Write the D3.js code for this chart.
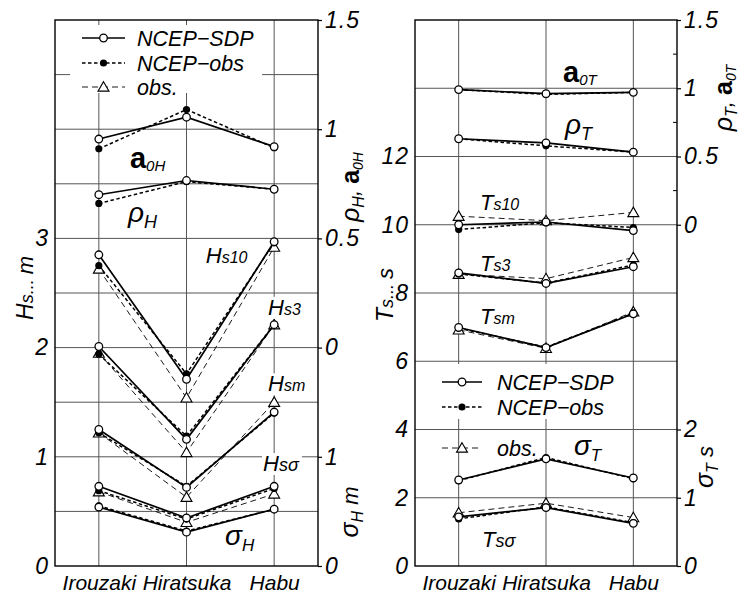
<!DOCTYPE html>
<html>
<head>
<meta charset="utf-8">
<script src="https://cdn.jsdelivr.net/npm/d3@7"></script>
<style>
  body { margin: 0; background: #fff; }
  svg { font-family: "Liberation Sans", Arial, sans-serif; font-style: italic; }
</style>
</head>
<body>
<svg id="chart" width="747" height="595"></svg>
<script>
const stations = ["Irouzaki", "Hiratsuka", "Habu"];
const legendNames = ["NCEP\u2212SDP", "NCEP\u2212obs", "obs."];

// wave height panel
const a0H_sdp = [0.955, 1.055, 0.92];
const a0H_nobs = [0.91, 1.09, 0.915];
const rhoH_sdp = [0.70, 0.765, 0.725];
const rhoH_nobs = [0.66, 0.76, 0.725];
const Hs10_sdp = [2.85, 1.71, 2.97];
const Hs10_nobs = [2.75, 1.76, 2.96];
const Hs10_obs = [2.72, 1.54, 2.92];
const Hs3_sdp = [2.01, 1.16, 2.21];
const Hs3_nobs = [1.94, 1.19, 2.21];
const Hs3_obs = [1.95, 1.04, 2.21];
const Hsm_sdp = [1.25, 0.72, 1.41];
const Hsm_nobs = [1.22, 0.73, 1.40];
const Hsm_obs = [1.22, 0.63, 1.50];
const Hssig_sdp = [0.73, 0.44, 0.73];
const Hssig_nobs = [0.69, 0.43, 0.71];
const Hssig_obs = [0.68, 0.40, 0.66];
const sigH_sdp = [0.54, 0.31, 0.52];
const sigH_nobs = [0.55, 0.32, 0.52];

// wave period panel
const a0T_sdp = [0.99, 0.96, 0.97];
const a0T_nobs = [0.99, 0.955, 0.97];
const rhoT_sdp = [0.63, 0.60, 0.532];
const rhoT_nobs = [0.63, 0.578, 0.532];
const Ts10_sdp = [10.0, 10.08, 9.83];
const Ts10_nobs = [9.86, 10.06, 9.92];
const Ts10_obs = [10.25, 10.12, 10.36];
const Ts3_sdp = [8.59, 8.28, 8.77];
const Ts3_nobs = [8.56, 8.29, 8.82];
const Ts3_obs = [8.55, 8.42, 9.04];
const Tsm_sdp = [6.99, 6.40, 7.39];
const Tsm_nobs = [6.97, 6.41, 7.41];
const Tsm_obs = [6.92, 6.38, 7.45];
const sigT_sdp = [1.26, 1.57, 1.29];
const sigT_nobs = [1.25, 1.59, 1.28];
const Tssig_sdp = [1.44, 1.71, 1.25];
const Tssig_nobs = [1.38, 1.73, 1.27];
const Tssig_obs = [1.56, 1.84, 1.42];

const leftTicksH = [0, 1, 2, 3];
const leftTicksT = [0, 2, 4, 6, 8, 10, 12];
const rhoTicks = [0, 0.5, 1, 1.5];
const sigTicksH = [0, 1];
const sigTicksT = [0, 1, 2];

const svg = d3.select("#chart");

const styles = {
  sdp:  { dash: null,  width: 1.7, marker: "open" },
  nobs: { dash: "3.5,2.5", width: 1.5, marker: "dot" },
  obs:  { dash: "6,4", width: 0.9, marker: "tri" }
};

function marker(g, kind, cx, cy) {
  if (kind === "open") {
    g.append("circle").attr("cx", cx).attr("cy", cy).attr("r", 3.8)
      .attr("fill", "#fff").attr("stroke", "#000").attr("stroke-width", 1.3);
  } else if (kind === "dot") {
    g.append("circle").attr("cx", cx).attr("cy", cy).attr("r", 3.6)
      .attr("fill", "#000");
  } else {
    g.append("path").attr("d", d3.symbol(d3.symbolTriangle, 52)())
      .attr("transform", `translate(${cx},${cy + 1})`)
      .attr("fill", "#fff").attr("stroke", "#000").attr("stroke-width", 1.1);
  }
}

// parts: [text, size, dy, upright, bold]
function richText(g, parts, anchor) {
  const t = g.append("text").attr("text-anchor", anchor || "start");
  parts.forEach(p => {
    const s = t.append("tspan").attr("font-size", p[1]).attr("dy", p[2] || 0).text(p[0]);
    if (p[3]) s.attr("font-style", "normal");
    if (p[4]) s.attr("font-weight", "bold");
  });
  return t;
}

function drawPanel(p) {
  const g = svg.append("g");
  const x = d3.scaleLinear().domain([0.5, 3.5]).range([p.left, p.right]);
  const yL = d3.scaleLinear().domain([0, p.lMax]).range([p.bottom, p.top]);
  const yR1 = d3.scaleLinear().domain([0, 1.5]).range([yL(p.r1Zero), p.top]);
  const yR2 = d3.scaleLinear().domain([0, 2]).range([p.bottom, yL(p.r2Two)]);
  const sc = { L: yL, R1: yR1, R2: yR2 };

  // grid
  g.append("g").selectAll("line")
    .data(d3.range(p.gridStep, p.lMax, p.gridStep))
    .join("line")
    .attr("x1", p.left).attr("x2", p.right)
    .attr("y1", d => yL(d)).attr("y2", d => yL(d))
    .attr("stroke", "#555").attr("stroke-width", 1);
  g.append("g").selectAll("line")
    .data([1, 2, 3])
    .join("line")
    .attr("x1", d => x(d)).attr("x2", d => x(d))
    .attr("y1", p.top).attr("y2", p.bottom)
    .attr("stroke", "#555").attr("stroke-width", 1);

  // legend background
  const lg = p.legend;
  g.append("rect").attr("x", lg.box[0]).attr("y", lg.box[1])
    .attr("width", lg.box[2]).attr("height", lg.box[3]).attr("fill", "#fff");

  // data lines: obs first, then NCEP-obs, then NCEP-SDP on top
  const line = d3.line();
  ["obs", "nobs", "sdp"].forEach(k => {
    const st = styles[k];
    p.series.filter(s => s[k]).forEach(s => {
      const ys = sc[s.ax];
      const pts = s[k].map((v, i) => [x(i + 1), ys(v)]);
      g.append("path").attr("d", line(pts))
        .attr("fill", "none").attr("stroke", "#000")
        .attr("stroke-width", st.width)
        .attr("stroke-dasharray", st.dash);
      pts.forEach(pt => marker(g, st.marker, pt[0], pt[1]));
    });
  });

  // legend
  ["sdp", "nobs", "obs"].forEach((k, i) => {
    const st = styles[k];
    const y = lg.ys[i];
    g.append("line").attr("x1", lg.x1).attr("x2", lg.x2).attr("y1", y).attr("y2", y)
      .attr("stroke", "#000").attr("stroke-width", st.width)
      .attr("stroke-dasharray", st.dash);
    marker(g, st.marker, (lg.x1 + lg.x2) / 2, y);
    g.append("text").attr("x", lg.tx).attr("y", y).attr("dy", "0.36em")
      .attr("font-size", 21.5).text(legendNames[i]);
  });

  // labels inside the plot
  p.labels.forEach(l => {
    const t = richText(g, l.parts).attr("x", x(l.x)).attr("y", yL(l.y));
    if (l.bg) {
      const b = t.node().getBBox();
      g.insert("rect", () => t.node())
        .attr("x", b.x - 1).attr("y", b.y + 2)
        .attr("width", b.width + 3).attr("height", b.height - 3)
        .attr("fill", "#fff");
    }
  });

  // axes
  const fmt = d3.format("");
  const ax = [];
  ax.push(g.append("g").attr("transform", `translate(${p.left},0)`)
    .call(d3.axisLeft(yL).tickValues(p.leftTicks).tickSize(0).tickPadding(6).tickFormat(fmt)));
  ax.push(g.append("g").attr("transform", `translate(${p.right},0)`)
    .call(d3.axisRight(yR1).tickValues(rhoTicks).tickSize(4).tickPadding(3).tickFormat(fmt)));
  ax.push(g.append("g").attr("transform", `translate(${p.right},0)`)
    .call(d3.axisRight(yR2).tickValues(p.sigTicks).tickSize(4).tickPadding(3).tickFormat(fmt)));
  ax.forEach(a => a.attr("font-size", 23).attr("letter-spacing", 1));
  const xa = g.append("g").attr("transform", `translate(0,${p.bottom})`)
    .call(d3.axisBottom(x).tickValues([1, 2, 3]).tickSize(0).tickPadding(9)
      .tickFormat(d => stations[d - 1]));
  xa.attr("font-size", 21);
  ax.push(xa);
  ax.forEach(a => {
    a.attr("font-family", null);
    a.select(".domain").remove();
    a.selectAll(".tick line").attr("stroke", "#000").attr("stroke-width", 1.2);
    a.selectAll(".tick text").attr("fill", "#000");
  });

  // minor inward ticks on right axis
  g.append("g").selectAll("line")
    .data(p.minor)
    .join("line")
    .attr("x1", p.right - 4).attr("x2", p.right)
    .attr("y1", d => yR1(d)).attr("y2", d => yR1(d))
    .attr("stroke", "#000").attr("stroke-width", 1);

  // frame
  g.append("rect").attr("x", p.left).attr("y", p.top)
    .attr("width", p.right - p.left).attr("height", p.bottom - p.top)
    .attr("fill", "none").attr("stroke", "#000").attr("stroke-width", 1.4);

  // axis titles
  p.titles.forEach(tt => {
    richText(g, tt.parts, "middle")
      .attr("transform", `translate(${tt.x},${tt.y}) rotate(-90)`);
  });
}

drawPanel({
  left: 55, right: 318, top: 20, bottom: 566,
  lMax: 5, gridStep: 0.5, r1Zero: 2, r2Two: 2,
  leftTicks: leftTicksH, sigTicks: sigTicksH, minor: [],
  legend: { x1: 82, x2: 125, tx: 137, ys: [38, 63, 87], box: [70, 25, 192, 68] },
  series: [
    { ax: "R1", sdp: a0H_sdp, nobs: a0H_nobs },
    { ax: "R1", sdp: rhoH_sdp, nobs: rhoH_nobs },
    { ax: "L", sdp: Hs10_sdp, nobs: Hs10_nobs, obs: Hs10_obs },
    { ax: "L", sdp: Hs3_sdp, nobs: Hs3_nobs, obs: Hs3_obs },
    { ax: "L", sdp: Hsm_sdp, nobs: Hsm_nobs, obs: Hsm_obs },
    { ax: "L", sdp: Hssig_sdp, nobs: Hssig_nobs, obs: Hssig_obs },
    { ax: "R2", sdp: sigH_sdp, nobs: sigH_nobs }
  ],
  labels: [
    { x: 1.355, y: 3.645, parts: [["a", 29, 0, true, true], ["0H", 15, 3]] },
    { x: 1.333, y: 3.15, parts: [["\u03c1", 28, 0], ["H", 18, 6]] },
    { x: 2.22, y: 2.775, parts: [["H", 22, 0], ["s10", 16, 0]] },
    { x: 2.93, y: 2.30, parts: [["H", 22, 0], ["s3", 16, 0]], bg: true },
    { x: 2.93, y: 1.60, parts: [["H", 22, 0], ["sm", 16, 0]], bg: true },
    { x: 2.873, y: 0.87, parts: [["H", 22, 0], ["s\u03c3", 18, 0]], bg: true },
    { x: 2.44, y: 0.192, parts: [["\u03c3", 28, 0], ["H", 17, 6]] }
  ],
  titles: [
    { x: 33, y: 288, parts: [["H", 23, 0], ["s... ", 18, 0], ["m", 22, 0]] },
    { x: 359, y: 187, parts: [["\u03c1", 25, 0], ["H", 16, 5], [", ", 22, -5], ["a", 25, 0, true, true], ["0H", 14, 4]] },
    { x: 358, y: 512, parts: [["\u03c3", 25, 0], ["H", 16, 5], [" m", 22, -5]] }
  ]
});

drawPanel({
  left: 415, right: 677, top: 20, bottom: 566,
  lMax: 16, gridStep: 2, r1Zero: 10, r2Two: 4,
  leftTicks: leftTicksT, sigTicks: sigTicksT, minor: [0.25, 0.75, 1.25],
  legend: { x1: 442, x2: 482, tx: 497, ys: [382, 407, 448], box: [435, 364, 190, 55] },
  series: [
    { ax: "R1", sdp: a0T_sdp, nobs: a0T_nobs },
    { ax: "R1", sdp: rhoT_sdp, nobs: rhoT_nobs },
    { ax: "L", sdp: Ts10_sdp, nobs: Ts10_nobs, obs: Ts10_obs },
    { ax: "L", sdp: Ts3_sdp, nobs: Ts3_nobs, obs: Ts3_obs },
    { ax: "L", sdp: Tsm_sdp, nobs: Tsm_nobs, obs: Tsm_obs },
    { ax: "R2", sdp: sigT_sdp, nobs: sigT_nobs },
    { ax: "L", sdp: Tssig_sdp, nobs: Tssig_nobs, obs: Tssig_obs }
  ],
  labels: [
    { x: 2.195, y: 14.18, parts: [["a", 29, 0, true, true], ["0T", 15, 3]] },
    { x: 2.218, y: 12.66, parts: [["\u03c1", 28, 0], ["T", 18, 6]] },
    { x: 1.244, y: 10.43, parts: [["T", 22, 0], ["s10", 16, 0]] },
    { x: 1.244, y: 8.645, parts: [["T", 22, 0], ["s3", 16, 0]] },
    { x: 1.244, y: 7.09, parts: [["T", 22, 0], ["sm", 16, 0]] },
    { x: 2.32, y: 3.25, parts: [["\u03c3", 28, 0], ["T", 17, 6]] },
    { x: 1.267, y: 0.557, parts: [["T", 22, 0], ["s\u03c3", 18, 0]] }
  ],
  titles: [
    { x: 393, y: 295, parts: [["T", 23, 0], ["s... ", 18, 0], ["s", 22, 0]] },
    { x: 732, y: 98, parts: [["\u03c1", 25, 0], ["T", 16, 5], [", ", 22, -5], ["a", 25, 0, true, true], ["0T", 14, 4]] },
    { x: 713, y: 467, parts: [["\u03c3", 25, 0], ["T", 16, 5], [" s", 22, -5]] }
  ]
});
</script>
</body>
</html>
